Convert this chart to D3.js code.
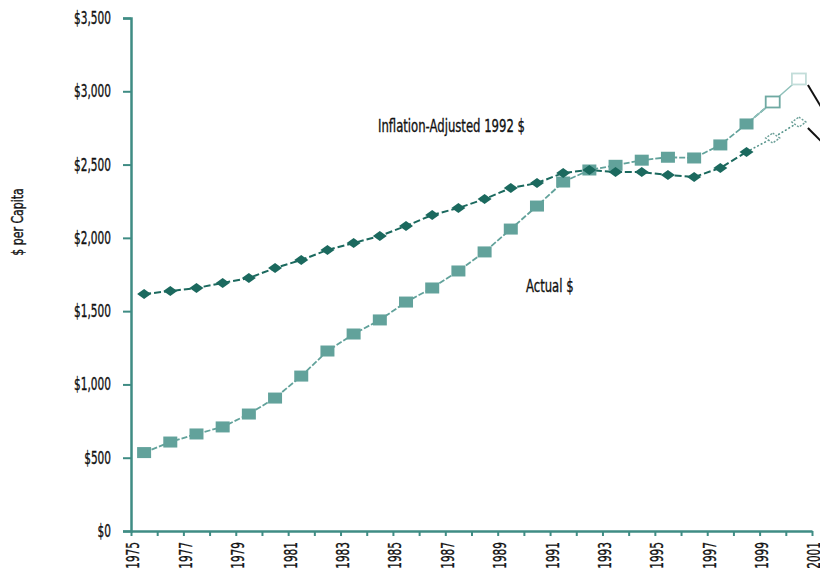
<!DOCTYPE html>
<html>
<head>
<meta charset="utf-8">
<script src="https://cdn.jsdelivr.net/npm/d3@7"></script>
<style>
  body { margin: 0; background: #fff; }
  svg text { font-family: "DejaVu Sans Condensed", "DejaVu Sans", sans-serif; font-stretch: condensed; fill: #111; stroke: #111; stroke-width: 0.35px; }
</style>
</head>
<body>
<div id="chart"></div>
<script>
// ---- data ----
const YEARS = d3.range(1975, 2001);          // data points 1975..2000
const TICK_YEARS = d3.range(1975, 2002);     // axis labels 1975..2001
const ACTUAL = [535, 607, 662, 710, 798, 907, 1057, 1228, 1344, 1440,
  1562, 1658, 1774, 1904, 2060, 2217, 2381, 2463, 2495, 2530,
  2550, 2545, 2634, 2777, 2927, 3084];
const ADJUSTED = [1617, 1637, 1658, 1692, 1726, 1794, 1849, 1917, 1965, 2013,
  2081, 2156, 2204, 2265, 2340, 2374, 2443, 2463, 2449, 2449,
  2429, 2415, 2477, 2586, 2681, 2790];
const PROJECTED_FROM = 1999;                 // hollow markers from here on
const Y_TICKS = [0, 500, 1000, 1500, 2000, 2500, 3000, 3500];

const W = 820, H = 571;
const plot = { left: 131, right: 812, top: 18, bottom: 531 };

const axisColor = "#3f8c84";
const actualColor = "#62a29b";
const adjColor = "#1b695e";

const svg = d3.select("#chart").append("svg")
  .attr("width", W).attr("height", H);

const x = d3.scaleLinear().domain([1975, 2001]).range([plot.left, plot.right]);
const y = d3.scaleLinear().domain([0, 3500]).range([plot.bottom, plot.top]);
const fmt = v => "$" + d3.format(",")(v);

// narrow look: squeeze text horizontally (in text's own frame)
const SQ = 0.69;

// y axis
const yAxis = svg.append("g")
  .attr("transform", `translate(${plot.left},0)`)
  .call(d3.axisLeft(y).tickValues(Y_TICKS).tickFormat(fmt).tickSize(8).tickPadding(0));
yAxis.select(".domain").attr("stroke", axisColor).attr("stroke-width", 2.5);
yAxis.selectAll(".tick line").attr("stroke", axisColor).attr("stroke-width", 2);
yAxis.selectAll(".tick text")
  .style("font-size", "17px").attr("fill", "#111")
  .attr("x", null)
  .attr("transform", `translate(-20,0) scale(${SQ},1)`);

// x axis
const xAxis = svg.append("g")
  .attr("transform", `translate(0,${plot.bottom})`)
  .call(d3.axisBottom(x).tickValues(TICK_YEARS).tickFormat(d => (d - 1975) % 2 === 0 ? d : "")
    .tickSize(5).tickSizeOuter(0));
xAxis.select(".domain").attr("stroke", axisColor).attr("stroke-width", 2.5);
xAxis.selectAll(".tick line").attr("stroke", axisColor).attr("stroke-width", 2);
xAxis.selectAll(".tick text")
  .style("font-size", "17px")
  .attr("fill", "#111")
  .attr("text-anchor", "end")
  .attr("transform", `rotate(-90) scale(${SQ},1)`)
  .attr("x", -11 / SQ)
  .attr("y", 2)
  .attr("dy", "0.35em");

// y title
svg.append("text")
  .attr("transform", `translate(23,${222}) rotate(-90) scale(0.76,1)`)
  .attr("text-anchor", "middle")
  .style("font-size", "16px")
  .text("$ per Capita");

// series
const cx = yr => x(yr + 0.5);
const actualPts = YEARS.map((yr, i) => ({ yr, v: ACTUAL[i] }));
const adjPts = YEARS.map((yr, i) => ({ yr, v: ADJUSTED[i] }));
const line = d3.line().x(d => cx(d.yr)).y(d => y(d.v));

svg.append("path")
  .attr("d", line(actualPts.filter(d => d.yr <= PROJECTED_FROM)))
  .attr("fill", "none").attr("stroke", actualColor).attr("stroke-width", 1.8)
  .attr("stroke-dasharray", "6,2");
svg.append("path")
  .attr("d", line(actualPts.filter(d => d.yr >= PROJECTED_FROM - 1)))
  .attr("fill", "none").attr("stroke", "#8fc0ba").attr("stroke-width", 1.5);

svg.append("path")
  .attr("d", line(adjPts.filter(d => d.yr <= PROJECTED_FROM - 1)))
  .attr("fill", "none").attr("stroke", adjColor).attr("stroke-width", 2)
  .attr("stroke-dasharray", "7,3");
svg.append("path")
  .attr("d", line(adjPts.filter(d => d.yr >= PROJECTED_FROM - 1)))
  .attr("fill", "none").attr("stroke", "#4f8f86").attr("stroke-width", 1.5)
  .attr("stroke-dasharray", "2,2");

// square markers (actual)
svg.append("g").selectAll("rect")
  .data(actualPts)
  .join("rect")
  .attr("x", d => cx(d.yr) - 7)
  .attr("y", d => y(d.v) - 5.5)
  .attr("width", 14)
  .attr("height", 11)
  .attr("fill", d => d.yr >= PROJECTED_FROM ? "#fff" : actualColor)
  .attr("stroke", d => d.yr >= PROJECTED_FROM ? (d.yr > PROJECTED_FROM ? "#c2ddd9" : "#6fa9a2") : "none")
  .attr("stroke-width", 1.8);

// diamond markers (inflation-adjusted)
const diamond = "M0,-5 L7,0 L0,5 L-7,0 Z";
svg.append("g").selectAll("path")
  .data(adjPts)
  .join("path")
  .attr("transform", d => `translate(${cx(d.yr)},${y(d.v)})`)
  .attr("d", diamond)
  .attr("fill", d => d.yr >= PROJECTED_FROM ? "#fff" : adjColor)
  .attr("stroke", d => d.yr >= PROJECTED_FROM ? "#6a9e97" : "none")
  .attr("stroke-width", 1.4)
  .attr("stroke-dasharray", d => d.yr >= PROJECTED_FROM ? "2,1.5" : null);

// series labels
svg.append("text").attr("transform", `translate(378,132) scale(0.72,1)`).style("font-size", "18px")
  .text("Inflation-Adjusted 1992 $");
svg.append("text").attr("transform", `translate(526,292) scale(0.72,1)`).style("font-size", "18px")
  .text("Actual $");

// callout lines at right edge
const callouts = [
  { yr: 2000, v: ACTUAL[ACTUAL.length - 1], dx: 12, dy: 20 },
  { yr: 2000, v: ADJUSTED[ADJUSTED.length - 1], dx: 12, dy: 12 }
];
svg.append("g").selectAll("line")
  .data(callouts)
  .join("line")
  .attr("x1", d => cx(d.yr) + 9)
  .attr("y1", d => y(d.v) + 6)
  .attr("x2", d => cx(d.yr) + 9 + d.dx * 1.6)
  .attr("y2", d => y(d.v) + 6 + d.dy * 1.6)
  .attr("stroke", "#111")
  .attr("stroke-width", 2);
</script>
</body>
</html>
